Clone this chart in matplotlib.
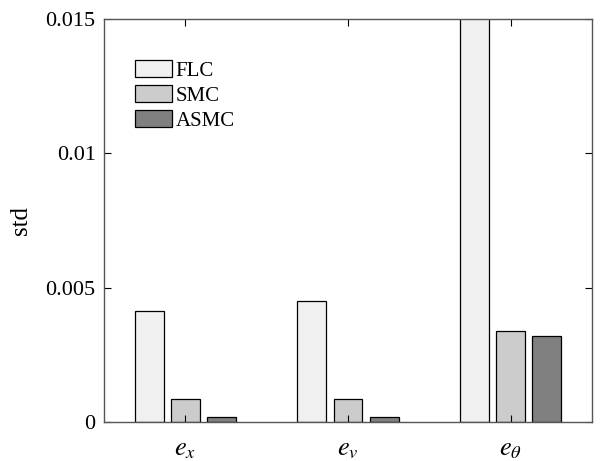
import matplotlib
matplotlib.use('Agg')
import matplotlib.pyplot as plt
import numpy as np

# data
groups = [r'$e_x$', r'$e_v$', r'$e_\theta$']
methods = ['FLC', 'SMC', 'ASMC']
flc = [0.00414, 0.00449, 0.0185]
smc = [0.00085, 0.00085, 0.00340]
asmc = [0.00018, 0.00018, 0.00320]
colors = ['#f0f0f0', '#cccccc', '#808080']

plt.rcParams['font.family'] = ['Liberation Serif', 'DejaVu Serif']
plt.rcParams['mathtext.fontset'] = 'stix'

fig = plt.figure(figsize=(6.01, 4.61), dpi=100)
ax = fig.add_axes([104 / 601, 1 - 422 / 461, (592 - 104) / 601, (422 - 19) / 461])

x = np.arange(1, len(groups) + 1)
width = 0.178
step = 0.222
for i, (vals, name) in enumerate(zip([flc, smc, asmc], methods)):
	ax.bar(x + (i - 1) * step, vals, width, color=colors[i], edgecolor='black',
		   linewidth=0.9, label=name)

ax.set_xlim(0.5, 3.5)
ax.set_ylim(0, 0.015)
ax.set_xticks(x)
ax.set_xticklabels(groups, fontsize=19)
ax.set_yticks([0, 0.005, 0.01, 0.015])
ax.set_yticklabels(['0', '0.005', '0.01', '0.015'], fontsize=16)
ax.tick_params(direction='in', top=True, right=True, length=5, width=0.8, pad=6)
ax.tick_params(axis='x', pad=12)
for s in ax.spines.values():
	s.set_color('#555555')
	s.set_linewidth(1.0)
ax.set_ylabel('std', fontsize=18, labelpad=10)

ax.legend(loc='upper left', bbox_to_anchor=(0.064, 0.898), frameon=False, fontsize=15,
		  handlelength=1.75, handleheight=0.9, handletextpad=0.2, labelspacing=0.19,
		  borderaxespad=0, borderpad=0)

fig.savefig('out.png', dpi=100)
